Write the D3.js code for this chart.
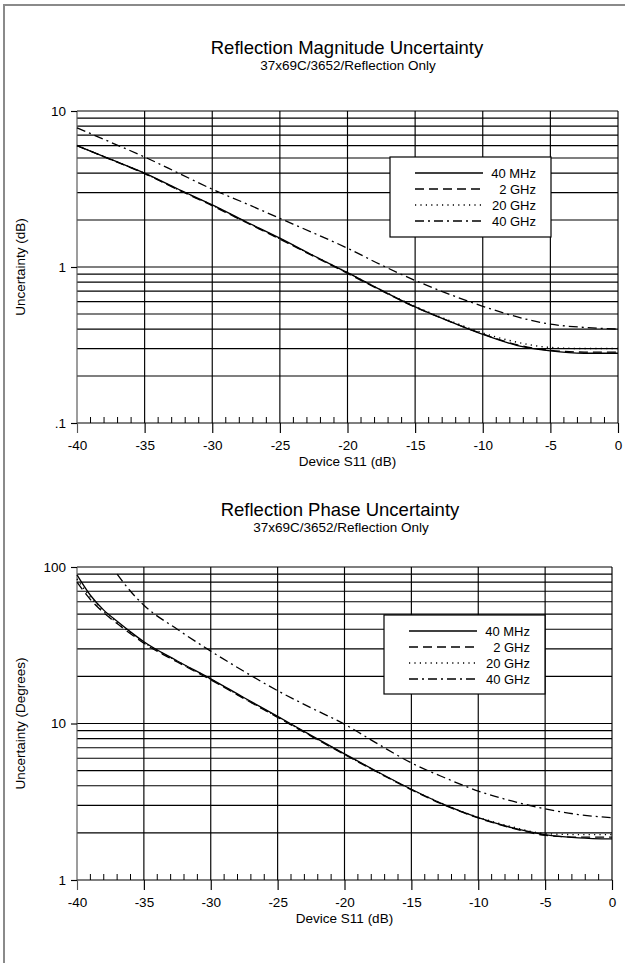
<!DOCTYPE html>
<html>
<head>
<meta charset="utf-8">
<script src="https://cdn.jsdelivr.net/npm/d3@7"></script>
<style>
html,body{margin:0;padding:0;background:#fff;}
svg{display:block;}
text{font-family:"Liberation Sans",Arial,Helvetica,sans-serif;fill:#000;}
</style>
</head>
<body>
<svg id="c" width="625" height="963"></svg>
<script>
// ---------- DATA ----------
const seriesNames = ["40 MHz", "2 GHz", "20 GHz", "40 GHz"];
const xMajorTicks = [-40, -35, -30, -25, -20, -15, -10, -5, 0];

// Reflection magnitude uncertainty (dB)
const magS11 = [-40, -37.5, -35, -32.5, -30, -27.5, -25, -22.5, -20, -17.5, -15, -12.5, -10, -7.5, -5, -2.5, 0];
const mag40MHz = [6.0, 4.9, 4.0, 3.15, 2.5, 1.95, 1.53, 1.18, 0.92, 0.71, 0.555, 0.45, 0.37, 0.315, 0.29, 0.28, 0.28];
const mag2GHz  = [6.0, 4.88, 3.97, 3.12, 2.47, 1.93, 1.51, 1.17, 0.91, 0.705, 0.553, 0.45, 0.372, 0.318, 0.292, 0.285, 0.285];
const mag20GHz = [6.02, 4.9, 3.98, 3.13, 2.49, 1.94, 1.52, 1.18, 0.92, 0.71, 0.56, 0.455, 0.378, 0.33, 0.305, 0.30, 0.30];
const mag40GHz = [7.8, 6.3, 5.07, 4.0, 3.15, 2.55, 2.05, 1.65, 1.32, 1.03, 0.82, 0.67, 0.56, 0.48, 0.43, 0.41, 0.40];
const magYTicks = [10, 1, 0.1];
const magYLabels = ["10", "1", ".1"];

// Reflection phase uncertainty (degrees)
const phS11 = [-40, -39, -38, -37, -36, -35, -32.5, -30, -27.5, -25, -22.5, -20, -17.5, -15, -12.5, -10, -7.5, -5, -2.5, 0];
const ph40MHz = [89, 66, 53, 45, 38.5, 33.3, 25.1, 19.3, 14.6, 11.1, 8.4, 6.4, 4.9, 3.8, 3.02, 2.5, 2.16, 1.95, 1.86, 1.83];
const ph2GHz  = [80, 62, 51, 43.5, 37.5, 32.6, 24.7, 19.0, 14.4, 10.95, 8.3, 6.33, 4.86, 3.77, 3.0, 2.49, 2.15, 1.93, 1.88, 1.88];
const ph20GHz = [84, 64, 52, 44, 38, 33, 25.0, 19.2, 14.5, 11.0, 8.35, 6.37, 4.88, 3.79, 3.03, 2.52, 2.19, 1.98, 1.95, 1.95];
const ph40GHzS11 = [-37, -36, -35, -32.5, -30, -27.5, -25, -22.5, -20, -17.5, -15, -12.5, -10, -7.5, -5, -2.5, 0];
const ph40GHz = [90, 70, 57, 40, 29, 21.5, 16.2, 12.6, 9.9, 7.4, 5.6, 4.5, 3.7, 3.2, 2.85, 2.62, 2.5];
const phYTicks = [100, 10, 1];
const phYLabels = ["100", "10", "1"];

// ---------- DRAW ----------
const svg = d3.select("#c");
const FONT = '"Liberation Sans",Arial,Helvetica,sans-serif';
const dashes = [null, "9,5", "1.2,4.2", "9,4,2,4"];

// page border
svg.append("line").attr("x1", 4).attr("x2", 4).attr("y1", 4).attr("y2", 963)
  .attr("stroke", "#8a8a8a").attr("stroke-width", 2);
svg.append("line").attr("x1", 4).attr("x2", 625).attr("y1", 5).attr("y2", 5)
  .attr("stroke", "#8a8a8a").attr("stroke-width", 2);

function drawChart(o) {
  const g = svg.append("g");
  const x = d3.scaleLinear().domain([-40, 0]).range([o.left, o.right]);
  const y = d3.scaleLog().domain(o.yDomain).range([o.bottom, o.top]);

  // titles
  g.append("text").attr("x", o.titleX).attr("y", o.titleY).attr("text-anchor", "middle")
    .attr("font-size", 18.5).text(o.title);
  g.append("text").attr("x", o.titleX + 1).attr("y", o.titleY + 16).attr("text-anchor", "middle")
    .attr("font-size", 13.5).text(o.subtitle);

  // horizontal grid (log minors)
  const lo = Math.log10(o.yDomain[0]), hi = Math.log10(o.yDomain[1]);
  const hvals = [];
  for (let e = lo; e < hi; e++) for (let m = 1; m <= 9; m++) hvals.push(m * Math.pow(10, e));
  hvals.push(o.yDomain[1]);
  g.append("g").selectAll("line").data(hvals).join("line")
    .attr("x1", o.left).attr("x2", o.right)
    .attr("y1", d => y(d)).attr("y2", d => y(d))
    .attr("stroke", "#000").attr("stroke-width", 1.15);

  // vertical grid
  g.append("g").selectAll("line").data(xMajorTicks).join("line")
    .attr("x1", d => x(d)).attr("x2", d => x(d))
    .attr("y1", o.top).attr("y2", o.bottom)
    .attr("stroke", d => d === -40 ? "#555" : "#000").attr("stroke-width", 1.15);

  // minor x ticks (every 1 dB) upward
  const minors = d3.range(-39, 0).filter(d => d % 5 !== 0);
  g.append("g").selectAll("line").data(minors).join("line")
    .attr("x1", d => x(d)).attr("x2", d => x(d))
    .attr("y1", o.bottom).attr("y2", o.bottom - 6)
    .attr("stroke", "#000").attr("stroke-width", 1);

  // x axis
  const xa = g.append("g").attr("transform", `translate(0,${o.bottom})`)
    .call(d3.axisBottom(x).tickValues(xMajorTicks).tickSize(10).tickPadding(7).tickFormat(d => String(d)));
  xa.select(".domain").remove();
  xa.selectAll(".tick line").attr("stroke", d => d === -40 ? "#555" : "#000").attr("stroke-width", 1.15);
  xa.selectAll(".tick text").attr("font-size", 13.5).attr("font-family", FONT).attr("fill", "#000");

  // y axis
  const ya = g.append("g").attr("transform", `translate(${o.left},0)`)
    .call(d3.axisLeft(y).tickValues(o.yTicks).tickSize(6).tickPadding(5)
      .tickFormat((d, i) => o.yLabels[i]));
  ya.select(".domain").remove();
  ya.selectAll(".tick line").attr("stroke", "#000").attr("stroke-width", 1.15);
  ya.selectAll(".tick text").attr("font-size", 13.5).attr("font-family", FONT).attr("fill", "#000");

  // axis titles
  g.append("text").attr("x", (o.left + o.right) / 2).attr("y", o.bottom + 43)
    .attr("text-anchor", "middle").attr("font-size", 13.5).text("Device S11 (dB)");
  g.append("text").attr("transform", `translate(25,${(o.top + o.bottom) / 2}) rotate(-90)`)
    .attr("text-anchor", "middle").attr("font-size", 13.5).text(o.yTitle);

  // curves
  const line = d3.line().x(d => x(d[0])).y(d => y(d[1])).curve(d3.curveMonotoneX);
  o.series.forEach((s, i) => {
    const pts = s.xs.map((v, k) => [v, s.ys[k]]);
    g.append("path").datum(pts).attr("d", line)
      .attr("fill", "none").attr("stroke", "#000")
      .attr("stroke-width", i === 2 ? 1.4 : 1.3)
      .attr("stroke-dasharray", dashes[i]);
  });

  // legend
  const L = o.legend;
  g.append("rect").attr("x", L.x).attr("y", L.y).attr("width", L.w).attr("height", L.h)
    .attr("fill", "#fff").attr("stroke", "#000").attr("stroke-width", 1.2);
  seriesNames.forEach((name, i) => {
    const yy = L.y + 16 + i * 16;
    g.append("line").attr("x1", L.x + 25).attr("x2", L.x + 93).attr("y1", yy).attr("y2", yy)
      .attr("stroke", "#000").attr("stroke-width", i === 2 ? 1.4 : 1.3)
      .attr("stroke-dasharray", dashes[i]);
    g.append("text").attr("x", L.x + 146).attr("y", yy + 4.7).attr("text-anchor", "end")
      .attr("font-size", 13).text(name);
  });
}

drawChart({
  title: "Reflection Magnitude Uncertainty",
  subtitle: "37x69C/3652/Reflection Only",
  titleX: 347, titleY: 54,
  left: 77, right: 618, top: 111, bottom: 423,
  yDomain: [0.1, 10], yTicks: magYTicks, yLabels: magYLabels,
  yTitle: "Uncertainty (dB)",
  legend: { x: 390, y: 157, w: 161, h: 80 },
  series: [
    { xs: magS11, ys: mag40MHz },
    { xs: magS11, ys: mag2GHz },
    { xs: magS11, ys: mag20GHz },
    { xs: magS11, ys: mag40GHz }
  ]
});

drawChart({
  title: "Reflection Phase Uncertainty",
  subtitle: "37x69C/3652/Reflection Only",
  titleX: 340, titleY: 516,
  left: 77, right: 612, top: 567, bottom: 880,
  yDomain: [1, 100], yTicks: phYTicks, yLabels: phYLabels,
  yTitle: "Uncertainty (Degrees)",
  legend: { x: 384, y: 615, w: 161, h: 79 },
  series: [
    { xs: phS11, ys: ph40MHz },
    { xs: phS11, ys: ph2GHz },
    { xs: phS11, ys: ph20GHz },
    { xs: ph40GHzS11, ys: ph40GHz }
  ]
});
</script>
</body>
</html>
